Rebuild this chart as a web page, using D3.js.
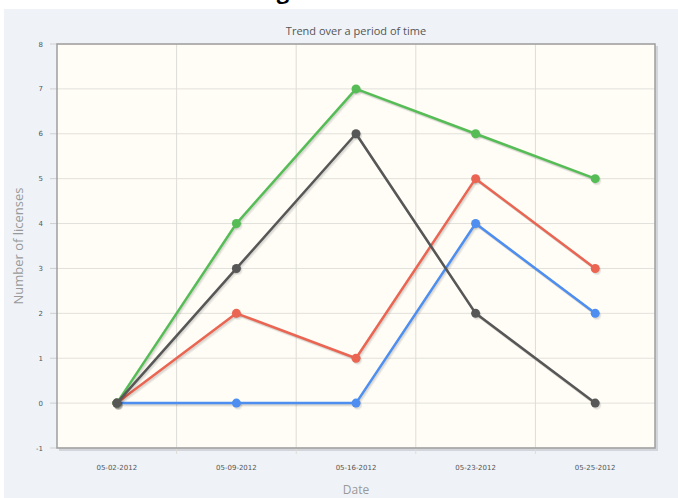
<!DOCTYPE html>
<html>
<head>
<meta charset="utf-8">
<script src="https://cdn.jsdelivr.net/npm/d3@7"></script>
<style>
  body { margin: 0; background: #fff; }
  svg { display: block; }
</style>
</head>
<body>
<svg id="chart"></svg>
<script>
// chart data
const dates = ["05-02-2012", "05-09-2012", "05-16-2012", "05-23-2012", "05-25-2012"];
const blueVals = [0, 0, 0, 4, 2];
const redVals = [0, 2, 1, 5, 3];
const greenVals = [0, 4, 7, 6, 5];
const grayVals = [0, 3, 6, 2, 0];
const yTicks = [-1, 0, 1, 2, 3, 4, 5, 6, 7, 8];

const series = [
  { name: "blue", values: blueVals, color: "#4d8ef0" },
  { name: "red", values: redVals, color: "#ea6552" },
  { name: "green", values: greenVals, color: "#56bd56" },
  { name: "gray", values: grayVals, color: "#575757" }
];

const W = 678, H = 498;
const margin = { top: 44, right: 23, bottom: 50, left: 57 };

const svg = d3.select("#chart").attr("width", W).attr("height", H);

// panel background
svg.append("rect")
  .attr("x", 4).attr("y", 9)
  .attr("width", W - 4).attr("height", H - 9)
  .attr("fill", "#eff3f8");

// cut-off heading above the panel (only the descender shows, as in the reference)
svg.append("text")
  .attr("x", 283).attr("y", -1)
  .attr("text-anchor", "middle")
  .style("font-family", "'Open Sans', sans-serif")
  .style("font-weight", "bold")
  .style("font-size", "22px")
  .attr("fill", "#000")
  .text("g");

const x = d3.scaleBand()
  .domain(dates)
  .range([margin.left, W - margin.right]);

const y = d3.scaleLinear()
  .domain([-1, 8])
  .range([H - margin.bottom, margin.top]);

const px = d => x(d) + x.bandwidth() / 2;

// plot area
const x0 = margin.left, x1 = W - margin.right;
const y0 = margin.top, y1 = H - margin.bottom;

// border shadow
svg.append("path")
  .attr("d", `M${x1 + 1.5},${y0 + 2}V${y1 + 1.5}H${x0 + 2}`)
  .attr("fill", "none")
  .attr("stroke", "rgba(0,0,0,0.12)")
  .attr("stroke-width", 3);

svg.append("rect")
  .attr("x", x0).attr("y", y0)
  .attr("width", x1 - x0).attr("height", y1 - y0)
  .attr("fill", "#fffdf6");

// grid
const grid = svg.append("g");
grid.selectAll("line.h")
  .data(yTicks)
  .join("line")
  .attr("x1", x0).attr("x2", x1)
  .attr("y1", d => y(d)).attr("y2", d => y(d))
  .attr("stroke", "#e2e0da").attr("stroke-width", 1);

grid.selectAll("line.v")
  .data(dates.slice(1))
  .join("line")
  .attr("x1", d => x(d)).attr("x2", d => x(d))
  .attr("y1", y0).attr("y2", y1 + 6)
  .attr("stroke", "#dedcd6").attr("stroke-width", 1);

// y tick marks
svg.append("g").selectAll("line")
  .data(yTicks)
  .join("line")
  .attr("x1", x0 - 7).attr("x2", x0)
  .attr("y1", d => y(d)).attr("y2", d => y(d))
  .attr("stroke", "#cfcfcf");

// border
svg.append("rect")
  .attr("x", x0).attr("y", y0)
  .attr("width", x1 - x0).attr("height", y1 - y0)
  .attr("fill", "none")
  .attr("stroke", "#9e9e9e").attr("stroke-width", 1.5);

// y tick labels
svg.append("g").selectAll("text")
  .data(yTicks)
  .join("text")
  .attr("x", 43).attr("y", d => y(d) + 2.5)
  .attr("text-anchor", "end")
  .style("font-family", "'DejaVu Sans', sans-serif")
  .style("font-size", "7px")
  .attr("fill", "#555")
  .text(d => d);

// x tick labels
svg.append("g").selectAll("text")
  .data(dates)
  .join("text")
  .attr("x", d => px(d)).attr("y", 470)
  .attr("text-anchor", "middle")
  .style("font-family", "'DejaVu Sans', sans-serif")
  .style("font-size", "7px")
  .attr("fill", "#555")
  .text(d => d);

// title
svg.append("text")
  .attr("x", (x0 + x1) / 2).attr("y", 35)
  .attr("text-anchor", "middle")
  .style("font-family", "'Open Sans', sans-serif")
  .style("font-size", "11px")
  .attr("fill", "#555")
  .text("Trend over a period of time");

// axis labels
svg.append("text")
  .attr("transform", `translate(23,${(y0 + y1) / 2}) rotate(-90)`)
  .attr("text-anchor", "middle")
  .style("font-family", "'Open Sans', sans-serif")
  .style("font-size", "13px")
  .attr("fill", "#999")
  .text("Number of licenses");

svg.append("text")
  .attr("x", (x0 + x1) / 2).attr("y", 494)
  .attr("text-anchor", "middle")
  .style("font-family", "'Open Sans', sans-serif")
  .style("font-size", "12px")
  .attr("fill", "#999")
  .text("Date");

// lines
const line = d3.line()
  .x((d, i) => px(dates[i]))
  .y(d => y(d));

series.forEach(s => {
  const g = svg.append("g");
  // shadow
  [1, 2, 3].forEach(k => {
    g.append("path")
      .attr("d", line(s.values))
      .attr("transform", `translate(${k * 0.6},${k * 0.8})`)
      .attr("fill", "none")
      .attr("stroke", "rgba(0,0,0,0.06)")
      .attr("stroke-width", 2.5);
    g.selectAll(null)
      .data(s.values)
      .join("circle")
      .attr("cx", (d, i) => px(dates[i]) + k * 0.6)
      .attr("cy", d => y(d) + k * 0.8)
      .attr("r", 4.5)
      .attr("fill", "rgba(0,0,0,0.05)");
  });
  g.append("path")
    .attr("d", line(s.values))
    .attr("fill", "none")
    .attr("stroke", s.color)
    .attr("stroke-width", 2.5)
    .attr("stroke-linejoin", "round");
  g.selectAll("circle.pt")
    .data(s.values)
    .join("circle")
    .attr("class", "pt")
    .attr("cx", (d, i) => px(dates[i]))
    .attr("cy", d => y(d))
    .attr("r", 4.5)
    .attr("fill", s.color);
});
</script>
</body>
</html>
